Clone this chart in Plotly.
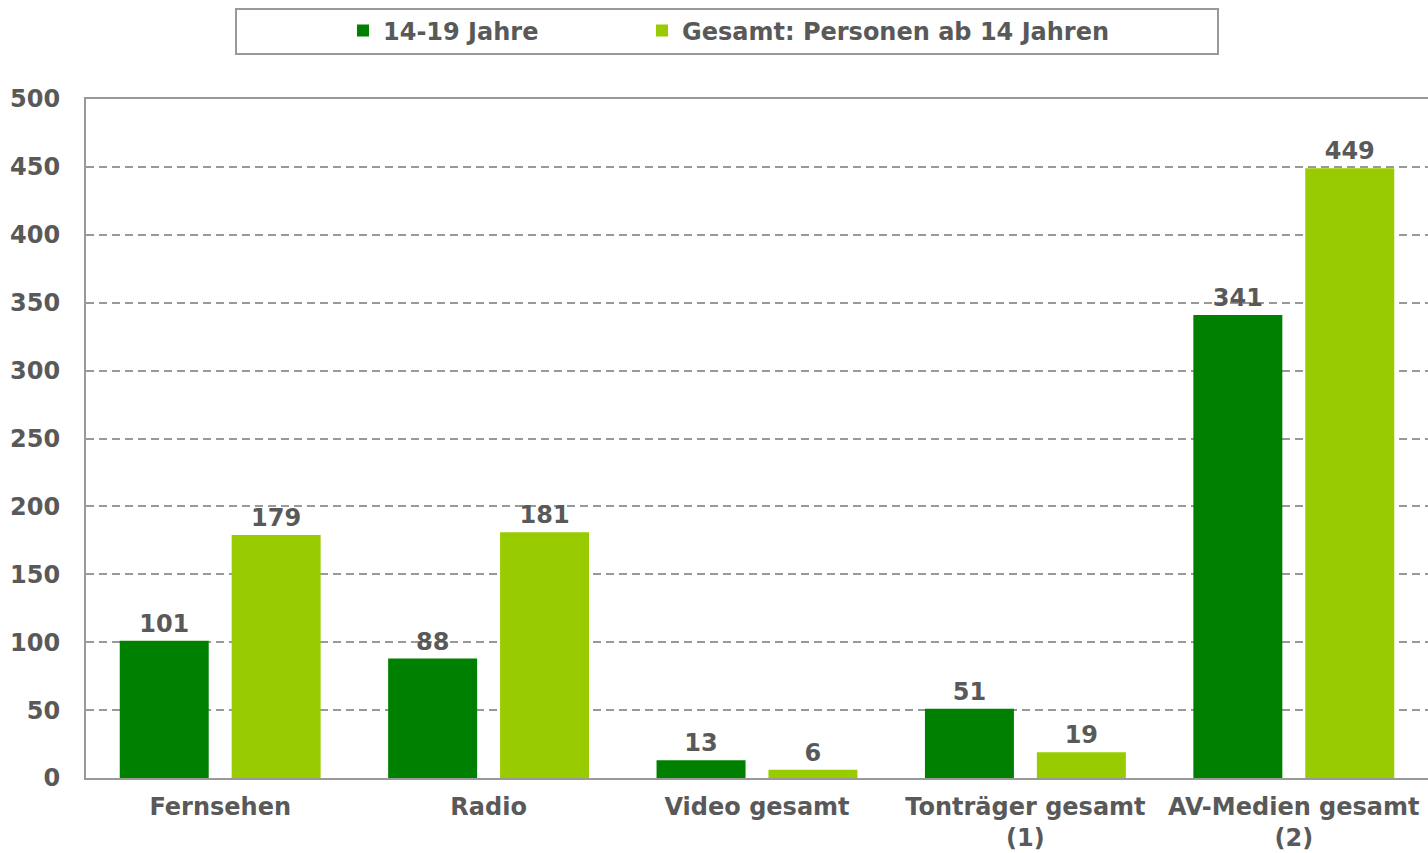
import plotly.graph_objects as go

categories = ["Fernsehen", "Radio", "Video gesamt", "Tonträger gesamt<br>(1)", "AV-Medien gesamt<br>(2)"]
series_names = ["14-19 Jahre", "Gesamt: Personen ab 14 Jahren"]
values_teen = [101, 88, 13, 51, 341]
values_all = [179, 181, 6, 19, 449]
y_ticks = [0, 50, 100, 150, 200, 250, 300, 350, 400, 450, 500]

FONT = "DejaVu Sans, Verdana, sans-serif"
TXT = "#595959"
FS = 24
tf = dict(family=FONT, size=FS, color=TXT, weight="bold")

fig = go.Figure()
for name, vals, col, lg in [(series_names[0], values_teen, "#008000", "legend"),
                            (series_names[1], values_all, "#99CC00", "legend2")]:
    fig.add_trace(go.Bar(
        name=name, x=categories, y=vals, marker_color=col, marker_line_width=0,
        text=[str(v) for v in vals], textposition="outside", cliponaxis=False,
        textfont=tf, legend=lg,
    ))

fig.update_layout(
    width=1428, height=853,
    margin=dict(l=86, r=0, t=99, b=75),
    paper_bgcolor="white", plot_bgcolor="white",
    barmode="group", bargap=0.166, bargroupgap=0.205,
    font=tf,
    showlegend=True,
    legend=dict(orientation="h", xref="container", yref="container",
                x=343/1428, y=1-31/853, xanchor="left", yanchor="middle",
                bgcolor="rgba(0,0,0,0)", font=tf),
    legend2=dict(orientation="h", xref="container", yref="container",
                 x=642/1428, y=1-31/853, xanchor="left", yanchor="middle",
                 bgcolor="rgba(0,0,0,0)", font=tf),
    shapes=[dict(type="rect", xref="paper", yref="paper",
                 x0=(236-86)/1342, x1=(1218-86)/1342,
                 y0=(778-54)/679, y1=(778-9)/679,
                 line=dict(color="#999999", width=2), fillcolor="rgba(0,0,0,0)", layer="below")],
)
fig.update_xaxes(showline=True, linecolor="#999999", linewidth=2, mirror=True, automargin=False,
                 showgrid=False, ticks="", ticklabelstandoff=6, tickfont=tf)
fig.update_yaxes(range=[0, 500], tickvals=y_ticks, showline=True, linecolor="#999999", linewidth=2,
                 showgrid=True, gridcolor="#999999", gridwidth=1.5, griddash="8px,5px", automargin=False,
                 zeroline=False, ticks="", ticklabelstandoff=19, tickfont=tf)

fig.write_html("out.html", config={"displayModeBar": False},
               post_script="document.body.style.margin='0';document.body.style.padding='0';")
